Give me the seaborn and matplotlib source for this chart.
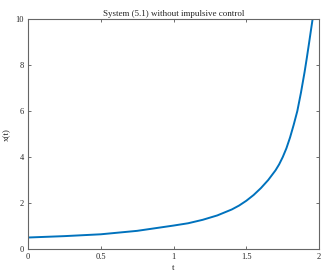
import numpy as np
import pandas as pd
import matplotlib
matplotlib.use('Agg')
import matplotlib.pyplot as plt
import seaborn as sns

# values
t_vals = [0.0, 0.25, 0.5, 0.75, 1.0, 1.1, 1.2, 1.3, 1.4, 1.45, 1.5, 1.55, 1.6, 1.65,
          1.7, 1.725, 1.75, 1.775, 1.8, 1.825, 1.85, 1.875, 1.9, 1.915, 1.93, 1.943, 1.955]
x_vals = [0.50, 0.56, 0.64, 0.79, 1.02, 1.12, 1.27, 1.46, 1.72, 1.89, 2.10, 2.35, 2.65, 3.0,
          3.42, 3.68, 4.0, 4.38, 4.85, 5.4, 6.0, 6.8, 7.7, 8.3, 8.93, 9.49, 10.0]

x_ticks = [0, 0.5, 1, 1.5, 2]
x_tick_labels = ['0', '0.5', '1', '1.5', '2']
y_ticks = [0, 2, 4, 6, 8, 10]

df = pd.DataFrame({'t': t_vals, 'x': x_vals})

sns.set_style('ticks')
plt.rcParams['font.family'] = ['Liberation Serif', 'DejaVu Serif']
plt.rcParams['xtick.direction'] = 'in'
plt.rcParams['ytick.direction'] = 'in'

fig = plt.figure(figsize=(3.32, 2.8), dpi=100)
ax = fig.add_axes([0.0843, 0.1107, 0.877, 0.821])

sns.lineplot(data=df, x='t', y='x', ax=ax, color='#0072BD', linewidth=1.4)

ax.set_xlim(0, 2)
ax.set_ylim(0, 10)
ax.set_xticks(x_ticks)
ax.set_xticklabels(x_tick_labels)
ax.set_yticks(y_ticks)
ax.tick_params(axis='both', labelsize=6, length=2.5, width=0.6, color='#555555',
               top=True, right=True, pad=3)
for s in ax.spines.values():
    s.set_visible(True)
    s.set_color('#666666')
    s.set_linewidth(0.8)

ax.set_title('System (5.1) without impulsive control', fontsize=6.5, pad=2)
ax.set_xlabel('t', fontsize=6.5, labelpad=2)
ax.set_ylabel('x(t)', fontsize=6.5, labelpad=3)

fig.savefig('out.png', dpi=100)
